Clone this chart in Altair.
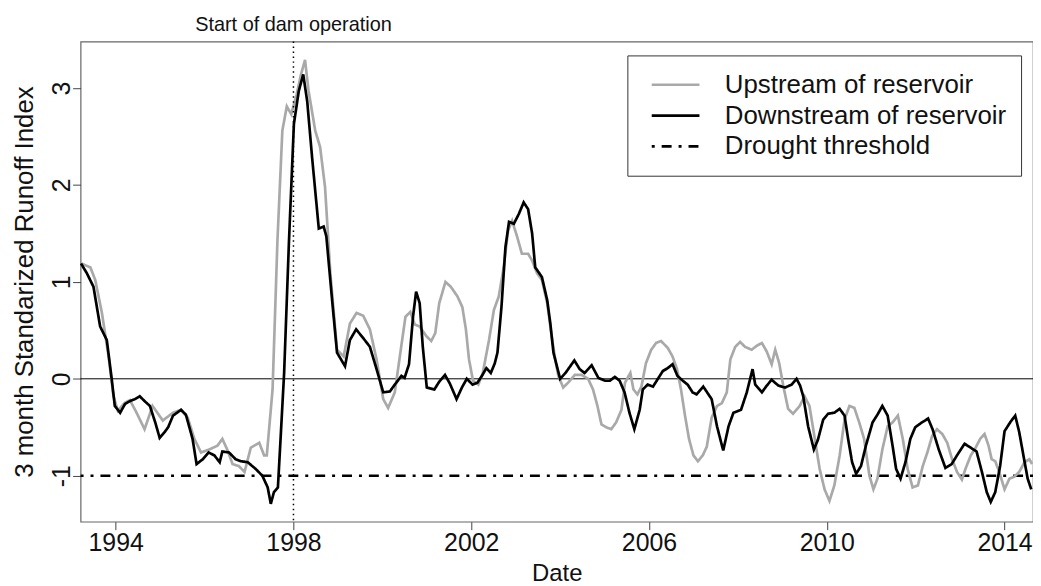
import altair as alt
import pandas as pd

# ---- data (decimal year, SRI value) ----
up_t = [1993.22, 1993.43, 1993.54, 1993.69, 1993.84, 1993.95, 1994.05, 1994.20, 1994.32, 1994.47,
        1994.65, 1994.83, 1995.06, 1995.29, 1995.47, 1995.62, 1995.77, 1995.92, 1996.10, 1996.29,
        1996.40, 1996.51, 1996.63, 1996.77, 1996.90, 1997.04, 1997.23, 1997.34, 1997.40, 1997.53,
        1997.64, 1997.75, 1997.85, 1997.95, 1998.07, 1998.17, 1998.26, 1998.34, 1998.49, 1998.60,
        1998.71, 1998.83, 1998.98, 1999.13, 1999.27, 1999.42, 1999.57, 1999.72, 1999.87, 2000.02,
        2000.13, 2000.28, 2000.43, 2000.52, 2000.63, 2000.73, 2000.84, 2000.99, 2001.10, 2001.19,
        2001.28, 2001.42, 2001.54, 2001.69, 2001.80, 2001.88, 2001.95, 2002.04, 2002.16, 2002.26,
        2002.40, 2002.51, 2002.62, 2002.73, 2002.83, 2002.92, 2003.03, 2003.14, 2003.28, 2003.37,
        2003.48, 2003.59, 2003.71, 2003.80, 2003.89, 2003.96, 2004.07, 2004.18, 2004.33, 2004.48,
        2004.63, 2004.74, 2004.84, 2004.93, 2005.04, 2005.15, 2005.26, 2005.38, 2005.46, 2005.58,
        2005.65, 2005.74, 2005.83, 2005.93, 2006.05, 2006.16, 2006.27, 2006.42, 2006.53, 2006.63,
        2006.72, 2006.81, 2006.90, 2007.00, 2007.10, 2007.21, 2007.30, 2007.41, 2007.53, 2007.64,
        2007.75, 2007.83, 2007.94, 2008.05, 2008.16, 2008.31, 2008.42, 2008.54, 2008.65, 2008.76,
        2008.84, 2008.93, 2009.02, 2009.13, 2009.24, 2009.39, 2009.50, 2009.61, 2009.72, 2009.84,
        2009.95, 2010.06, 2010.17, 2010.29, 2010.40, 2010.51, 2010.62, 2010.73, 2010.84, 2010.96,
        2011.05, 2011.14, 2011.25, 2011.37, 2011.48, 2011.60, 2011.71, 2011.82, 2011.93, 2012.05,
        2012.16, 2012.27, 2012.37, 2012.48, 2012.60, 2012.71, 2012.82, 2012.93, 2013.04, 2013.12,
        2013.24, 2013.35, 2013.45, 2013.55, 2013.64, 2013.71, 2013.79, 2013.88, 2014.00, 2014.11,
        2014.22, 2014.33, 2014.45, 2014.56, 2014.62]
up_v = [1.19, 1.15, 1.02, 0.68, 0.23, -0.18, -0.33, -0.25, -0.22, -0.35,
        -0.52, -0.28, -0.43, -0.35, -0.32, -0.40, -0.62, -0.76, -0.73, -0.69,
        -0.62, -0.73, -0.88, -0.90, -0.96, -0.71, -0.66, -0.79, -0.79, -0.11,
        1.43, 2.56, 2.81, 2.73, 2.93, 3.14, 3.29, 2.97, 2.56, 2.39,
        1.98, 1.09, 0.30, 0.23, 0.57, 0.68, 0.65, 0.51, 0.20, -0.21,
        -0.30, -0.14, 0.35, 0.64, 0.69, 0.56, 0.54, 0.44, 0.39, 0.47,
        0.78, 1.00, 0.95, 0.85, 0.74, 0.51, 0.20, -0.02, -0.06, 0.06,
        0.40, 0.71, 0.85, 1.15, 1.53, 1.63, 1.47, 1.29, 1.29, 1.22,
        1.09, 1.02, 0.78, 0.47, 0.20, 0.03, -0.09, -0.04, 0.04, 0.04,
        0.00, -0.11, -0.28, -0.47, -0.50, -0.52, -0.45, -0.32, -0.04, 0.06,
        -0.11, -0.16, -0.08, 0.16, 0.30, 0.37, 0.39, 0.32, 0.23, 0.10,
        -0.11, -0.38, -0.62, -0.79, -0.85, -0.79, -0.70, -0.40, -0.28, -0.25,
        -0.14, 0.20, 0.33, 0.38, 0.33, 0.30, 0.34, 0.37, 0.28, 0.15,
        0.30, 0.16, -0.07, -0.31, -0.36, -0.28, -0.18, -0.28, -0.59, -0.93,
        -1.14, -1.26, -1.10, -0.79, -0.42, -0.28, -0.30, -0.45, -0.62, -1.00,
        -1.14, -1.03, -0.73, -0.49, -0.45, -0.38, -0.62, -0.93, -1.12, -1.10,
        -0.90, -0.75, -0.59, -0.52, -0.57, -0.66, -0.83, -0.96, -1.04, -0.93,
        -0.79, -0.71, -0.62, -0.57, -0.69, -0.83, -0.85, -0.96, -1.14, -1.03,
        -1.01, -0.96, -0.86, -0.83, -0.88]

down_t = [1993.22, 1993.35, 1993.50, 1993.65, 1993.80, 1993.91, 1993.98, 1994.10, 1994.21, 1994.32,
          1994.43, 1994.54, 1994.65, 1994.77, 1994.89, 1994.99, 1995.10, 1995.18, 1995.29, 1995.47,
          1995.58, 1995.73, 1995.82, 1995.96, 1996.09, 1996.22, 1996.34, 1996.40, 1996.55, 1996.70,
          1996.81, 1996.97, 1997.15, 1997.30, 1997.42, 1997.49, 1997.56, 1997.65, 1997.71, 1997.79,
          1997.90, 1998.01, 1998.12, 1998.22, 1998.31, 1998.42, 1998.57, 1998.68, 1998.74, 1998.87,
          1998.98, 1999.16, 1999.27, 1999.41, 1999.57, 1999.72, 1999.87, 2000.02, 2000.17, 2000.28,
          2000.43, 2000.50, 2000.60, 2000.69, 2000.76, 2000.84, 2000.91, 2001.00, 2001.17, 2001.28,
          2001.41, 2001.52, 2001.67, 2001.79, 2001.90, 2002.03, 2002.14, 2002.24, 2002.34, 2002.44,
          2002.53, 2002.59, 2002.68, 2002.77, 2002.85, 2002.96, 2003.07, 2003.18, 2003.28, 2003.37,
          2003.44, 2003.59, 2003.71, 2003.78, 2003.85, 2004.00, 2004.12, 2004.32, 2004.44, 2004.55,
          2004.71, 2004.86, 2005.01, 2005.12, 2005.23, 2005.34, 2005.45, 2005.56, 2005.67, 2005.79,
          2005.86, 2005.97, 2006.09, 2006.20, 2006.31, 2006.42, 2006.53, 2006.64, 2006.76, 2006.87,
          2006.98, 2007.07, 2007.22, 2007.41, 2007.53, 2007.67, 2007.79, 2007.90, 2008.07, 2008.20,
          2008.33, 2008.39, 2008.54, 2008.65, 2008.76, 2008.91, 2009.06, 2009.21, 2009.32, 2009.40,
          2009.47, 2009.58, 2009.71, 2009.80, 2009.92, 2010.03, 2010.17, 2010.29, 2010.40, 2010.48,
          2010.57, 2010.66, 2010.77, 2010.88, 2011.03, 2011.14, 2011.25, 2011.37, 2011.48, 2011.56,
          2011.66, 2011.77, 2011.88, 2011.99, 2012.14, 2012.28, 2012.38, 2012.52, 2012.67, 2012.81,
          2012.93, 2013.10, 2013.27, 2013.37, 2013.49, 2013.60, 2013.69, 2013.79, 2013.90, 2014.00,
          2014.14, 2014.24, 2014.33, 2014.44, 2014.52, 2014.60]
down_v = [1.19, 1.09, 0.95, 0.54, 0.40, 0.00, -0.28, -0.35, -0.26, -0.23,
          -0.21, -0.18, -0.23, -0.28, -0.45, -0.61, -0.55, -0.50, -0.38, -0.32,
          -0.37, -0.62, -0.88, -0.83, -0.76, -0.79, -0.86, -0.75, -0.76, -0.83,
          -0.85, -0.86, -0.93, -1.00, -1.12, -1.29, -1.17, -1.12, -0.62, 0.06,
          1.43, 2.63, 2.97, 3.14, 2.86, 2.28, 1.55, 1.57, 1.47, 0.81,
          0.27, 0.13, 0.40, 0.51, 0.42, 0.33, 0.10, -0.14, -0.13, -0.06,
          0.03, 0.01, 0.15, 0.64, 0.90, 0.78, 0.33, -0.09, -0.11, -0.03,
          0.04, -0.05, -0.21, -0.09, 0.00, -0.06, -0.04, 0.03, 0.11, 0.06,
          0.16, 0.27, 0.74, 1.36, 1.62, 1.60, 1.70, 1.82, 1.75, 1.50,
          1.15, 1.05, 0.81, 0.57, 0.27, 0.00, 0.06, 0.19, 0.10, 0.06,
          0.14, 0.01, -0.02, -0.02, 0.02, -0.02, -0.14, -0.35, -0.52, -0.32,
          -0.11, -0.06, -0.08, 0.00, 0.08, 0.11, 0.15, 0.03, -0.02, -0.06,
          -0.14, -0.16, -0.08, -0.21, -0.49, -0.74, -0.49, -0.35, -0.32, -0.14,
          0.10, -0.06, -0.14, -0.07, -0.01, -0.07, -0.09, -0.06, 0.00, -0.07,
          -0.18, -0.49, -0.73, -0.63, -0.42, -0.36, -0.35, -0.31, -0.38, -0.62,
          -0.86, -0.98, -0.90, -0.69, -0.45, -0.37, -0.28, -0.38, -0.69, -0.93,
          -1.03, -0.86, -0.62, -0.50, -0.45, -0.41, -0.52, -0.73, -0.92, -0.88,
          -0.79, -0.67, -0.72, -0.75, -0.96, -1.17, -1.27, -1.17, -0.90, -0.54,
          -0.44, -0.38, -0.55, -0.83, -1.03, -1.14]

series_names = ["Upstream of reservoir", "Downstream of reservoir", "Drought threshold"]
series_colors = ["#a9a9a9", "#000000", "#000000"]
series_dashes = [[1, 0], [1, 0], [3, 7, 10, 7]]
threshold_value = [-1]
zero_value = [0]
dam_start = [1998.0]
dam_label = ["Start of dam operation"]
x_ticks = [1994, 1998, 2002, 2006, 2010, 2014]
y_ticks = [-1, 0, 1, 2, 3]
x_domain = [1993.21, 2014.64]
y_domain = [-1.474, 3.48]

FONT = "Liberation Sans"
W, H = 958, 483
LW = 2.7

up_df = pd.DataFrame({"t": up_t, "v": up_v, "series": series_names[0]})
down_df = pd.DataFrame({"t": down_t, "v": down_v, "series": series_names[1]})
thr_df = pd.DataFrame({"v": threshold_value, "series": series_names[2]})
zero_df = pd.DataFrame({"v": zero_value})
dam_df = pd.DataFrame({"t": dam_start, "label": dam_label})

xenc = alt.X(
    "t:Q",
    scale=alt.Scale(domain=x_domain, nice=False, zero=False),
    axis=alt.Axis(values=x_ticks, format="d", title="Date", grid=False, domain=False,
                  tickSize=8, tickColor="#444", tickWidth=1,
                  labelFontSize=25, labelFont=FONT, labelColor="#111", labelPadding=1,
                  labelFlush=False, labelOverlap=False,
                  titleFontSize=24, titleFont=FONT, titleFontWeight="normal", titleColor="#111",
                  titleBaseline="alphabetic", titleY=59),
)
yenc = alt.Y(
    "v:Q",
    scale=alt.Scale(domain=y_domain, nice=False, zero=False),
    axis=alt.Axis(values=y_ticks, labelExpr="'' + datum.value", title="3 month Standarized Runoff Index",
                  grid=False, domain=False, tickSize=8, tickColor="#444", tickWidth=1,
                  labelFontSize=25, labelFont=FONT, labelColor="#111", labelAngle=270,
                  labelAlign="center", labelBaseline="alphabetic", labelPadding=3,
                  labelFlush=False, labelOverlap=False,
                  titleFontSize=26, titleFont=FONT, titleFontWeight="normal", titleColor="#111",
                  titleAngle=270, titleAlign="center", titleBaseline="alphabetic",
                  titleX=-48, titleY=H / 2),
)

legend = alt.Legend(
    title=None, orient="none", legendX=550, legendY=14, padding=14,
    strokeColor="#333", fillColor="white",
    labelFontSize=26, labelFont=FONT, labelColor="#111", labelOffset=24, labelLimit=500,
    symbolType="stroke", symbolSize=2304, symbolStrokeWidth=LW, symbolOffset=9,
    clipHeight=31, rowPadding=0,
)
color = alt.Color("series:N", scale=alt.Scale(domain=series_names, range=series_colors), legend=legend)
dash = alt.StrokeDash("series:N", scale=alt.Scale(domain=series_names, range=series_dashes), legend=legend)

zero_rule = alt.Chart(zero_df).mark_rule(color="black", strokeWidth=1).encode(y=yenc)
dam_rule = alt.Chart(dam_df).mark_rule(color="black", strokeWidth=1.5, strokeDash=[1.5, 3.5]).encode(x=xenc)
dam_text = alt.Chart(dam_df).mark_text(fontSize=20, font=FONT, color="#111", align="center",
                                       baseline="middle").encode(x=xenc, y=alt.value(-17), text="label:N")
thr_rule = alt.Chart(thr_df).mark_rule(strokeWidth=LW).encode(y=yenc, color=color, strokeDash=dash)
up_line = alt.Chart(up_df).mark_line(strokeWidth=LW).encode(x=xenc, y=yenc, color=color, strokeDash=dash)
down_line = alt.Chart(down_df).mark_line(strokeWidth=LW).encode(x=xenc, y=yenc, color=color, strokeDash=dash)

chart = alt.layer(zero_rule, thr_rule, up_line, down_line, dam_rule, dam_text).properties(
    width=W, height=H,
    padding={"left": 73, "top": 32, "right": 0, "bottom": 62},
    autosize=alt.AutoSizeParams(type="none"),
    background="white",
).configure_view(stroke="#666", strokeWidth=1.2)

chart.save("out.html", embed_options={"renderer": "svg", "actions": False})
